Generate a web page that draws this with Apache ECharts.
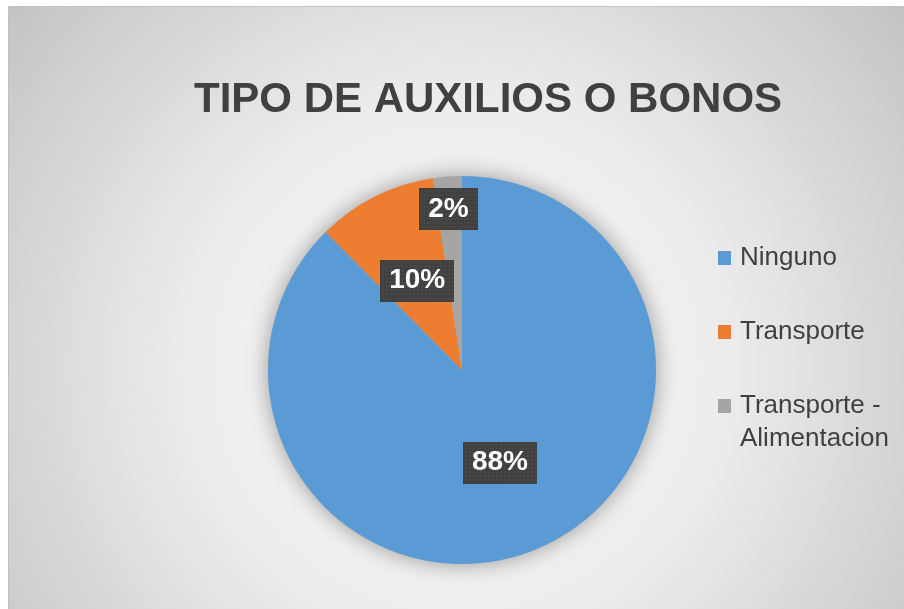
<!DOCTYPE html>
<html>
<head>
<meta charset="utf-8">
<script src="https://cdn.jsdelivr.net/npm/echarts@6/dist/echarts.min.js"></script>
<style>
  html, body { margin: 0; padding: 0; background: #fff; }
  #chart { position: absolute; left: 8px; top: 6px; width: 895px; height: 602px; border-top: 1px solid #c0c0c0; border-left: 1px solid #c0c0c0; }
</style>
</head>
<body>
<div id="chart"></div>
<script>
var titleText = 'TIPO DE AUXILIOS O BONOS'
var categories = ['Ninguno', 'Transporte', 'Transporte - Alimentacion']
var values = [87.6, 10, 2.4]
var colors = ['#5B9BD5', '#ED7D31', '#A5A5A5']

// dotted dark box behind the data labels
function dottedBox(w, h) {
  var c = document.createElement('canvas')
  c.width = w
  c.height = h
  var ctx = c.getContext('2d')
  ctx.fillStyle = '#404040'
  ctx.fillRect(0, 0, w, h)
  ctx.fillStyle = '#555555'
  for (var y = 2; y < h; y += 4) {
    for (var x = 2; x < w; x += 4) {
      ctx.fillRect(x, y, 1.5, 1.5)
    }
  }
  return c
}
var boxImg = dottedBox(76, 42)

var chart = echarts.init(document.getElementById('chart'))
chart.setOption({
  backgroundColor: {
    type: 'radial',
    x: 0.5,
    y: 0.6,
    r: 1,
    colorStops: [
      { offset: 0, color: '#fefefe' },
      { offset: 0.45, color: '#ececec' },
      { offset: 1, color: '#c0c0c0' }
    ]
  },
  title: [{
    text: titleText,
    left: 185,
    top: 72,
    padding: 0,
    textStyle: {
      color: '#404040',
      fontFamily: 'Liberation Sans, Arial',
      fontWeight: 'bold',
      fontSize: 42
    }
  }, {
    // second line of the third legend entry
    text: 'Alimentacion',
    left: 731,
    top: 416,
    padding: 0,
    textStyle: {
      color: '#404040',
      fontFamily: 'Liberation Sans, Arial',
      fontWeight: 'normal',
      fontSize: 26,
      lineHeight: 32
    }
  }],
  legend: {
    orient: 'vertical',
    left: 709,
    top: 235,
    padding: 0,
    itemGap: 42,
    itemWidth: 13,
    itemHeight: 14,
    icon: 'rect',
    data: categories,
    formatter: function (name) {
      return name === 'Transporte - Alimentacion' ? 'Transporte -' : name
    },
    textStyle: {
      color: '#404040',
      fontFamily: 'Liberation Sans, Arial',
      fontSize: 26,
      lineHeight: 32,
      padding: [0, 0, 0, 4]
    }
  },
  series: [{
    name: 'Tipo',
    type: 'pie',
    z: 3,
    center: [453, 363],
    radius: 194,
    startAngle: 90,
    clockwise: true,
    color: colors,
    label: {
      show: true,
      position: 'inside',
      formatter: function (p) { return Math.round(p.percent) + '%' },
      color: '#fff',
      fontFamily: 'Liberation Sans, Arial',
      fontWeight: 'bold',
      fontSize: 28,
      lineHeight: 30,
      padding: [6, 9, 6, 9],
      backgroundColor: { image: boxImg },
      shadowColor: 'rgba(0,0,0,0.55)',
      shadowBlur: 6,
      shadowOffsetX: 3,
      shadowOffsetY: 3
    },
    labelLayout: function (p) {
      if (p.dataIndex === 2) return { dx: -6, dy: -61 }
    },
    labelLine: { show: false },
    emphasis: { disabled: true },
    data: categories.map(function (c, i) { return { name: c, value: values[i] } })
  }, {
    // soft halo under the pie
    name: 'shadow',
    type: 'pie',
    z: 1,
    silent: true,
    center: [453, 363],
    radius: 194,
    label: { show: false },
    labelLine: { show: false },
    itemStyle: {
      color: '#bdbdbd',
      shadowBlur: 22,
      shadowColor: 'rgba(0,0,0,0.38)'
    },
    data: [{ name: 'shadow', value: values.reduce(function (a, b) { return a + b }, 0) }]
  }]
})
</script>
</body>
</html>
